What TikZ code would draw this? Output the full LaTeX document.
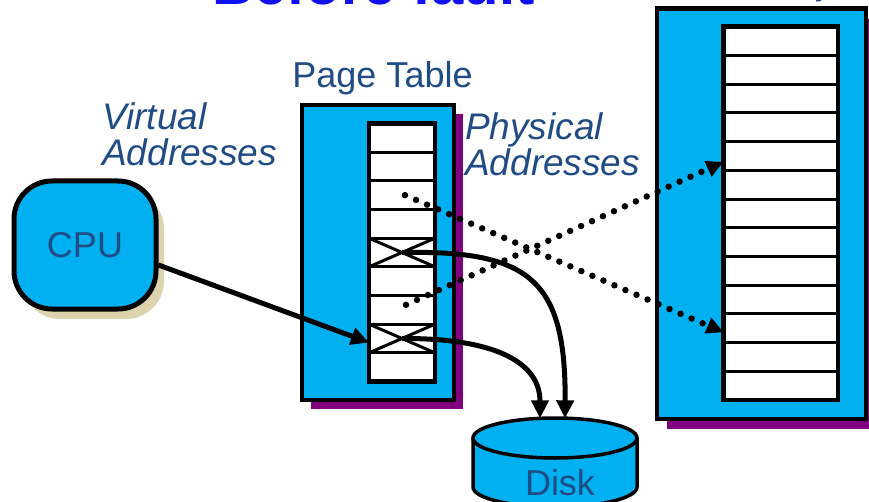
\documentclass[tikz,border=0pt]{standalone}
\usepackage{fontspec}
\setmainfont{Liberation Sans}
\usetikzlibrary{arrows.meta,calc}

\definecolor{fillcyan}{HTML}{00B0F0}
\definecolor{shadowpurple}{HTML}{800080}
\definecolor{shadowtan}{HTML}{DDD3AE}
\definecolor{labelblue}{HTML}{204C86}
\definecolor{titleblue}{HTML}{1010F0}

\begin{document}
\begin{tikzpicture}[x=1pt,y=-1pt,
  pagebox/.style={draw=black,line width=4.5pt,fill=fillcyan,inner sep=0pt},
  rowcell/.style={draw=black,line width=3pt,fill=white,inner sep=0pt,outer sep=0pt,minimum height=28.7pt},
  ptrow/.style={rowcell,minimum width=66pt},
  memrow/.style={rowcell,minimum width=114.5pt},
  colframe/.style={draw=black,line width=4.5pt},
  xline/.style={draw=black,line width=3pt},
  txt/.style={text=labelblue,font=\fontsize{36}{37}\selectfont,inner sep=0pt},
  itxt/.style={txt,font=\itshape\fontsize{37}{36}\selectfont,align=left},
  dotarrow/.style={line width=6.5pt,line cap=round,dash pattern=on 0pt off 12pt,
    -{Triangle[length=17pt,width=16pt]}},
  solidarrow/.style={line width=5pt,-{Triangle[length=18pt,width=17pt]}},
  cpubox/.style={draw=black,line width=5pt,fill=fillcyan,rounded corners=38pt,
    minimum width=142pt,minimum height=128pt,txt}]

\useasboundingbox (0,0) rectangle (869,502);

% titles along the top edge
\node[anchor=base,inner sep=0pt,text=titleblue,font=\bfseries\fontsize{58}{60}\selectfont]
  (title) at (373.5,5) {Before fault};
\node[txt,anchor=base east] (memtitle) at (833,-5) {Memory};

% CPU with its shadow
\fill[shadowtan,rounded corners=38pt] (22,191) rectangle (164,319);
\node[cpubox] (cpu) at (85,245) {CPU};

% page table
\fill[shadowpurple] (311,114) rectangle (463,409);
\node[pagebox,minimum width=152pt,minimum height=295pt] (pt) at (378,252.5) {};
\foreach \k in {1,...,9}
  \node[ptrow] (pt\k) at (402,{123.5+28.667*(\k-0.5)}) {};
\draw[colframe] (pt1.north west) rectangle (pt9.south east);
\foreach \k in {5,8}
  \draw[xline] (pt\k.north west) -- (pt\k.south east)
               (pt\k.south west) -- (pt\k.north east);

% physical memory
\fill[shadowpurple] (667,19) rectangle (880,429);
\node[pagebox,minimum width=209pt,minimum height=410.3pt] (mem) at (761.5,213.85) {};
\foreach \k in {1,...,13}
  \node[memrow] (m\k) at (780.75,{26.7+28.72*(\k-0.5)}) {};
\draw[colframe] (m1.north west) rectangle (m13.south east);

% disk
\fill[fillcyan] (473,438) -- (473,487)
  arc[start angle=180,end angle=0,x radius=82,y radius=20] -- (637,438) -- cycle;
\draw[line width=3.5pt] (473,438) -- (473,487)
  arc[start angle=180,end angle=0,x radius=82,y radius=20] -- (637,438);
\draw[line width=3.5pt,fill=fillcyan] (555,438) ellipse[x radius=82,y radius=20];
\node[txt,anchor=base] (disk) at (560,495) {Disk};
\coordinate (diskinA) at (540,418.3);
\coordinate (diskinB) at (565,418.3);

% labels
\node[txt,anchor=base] (ptlabel) at (382.5,88) {Page Table};
\node[itxt,anchor=north west] (vlabel) at (102,102) {Virtual\\Addresses};
\node[itxt,anchor=north west] (plabel) at (465,112) {Physical\\Addresses};

% translations to physical frames
\draw[dotarrow] ([xshift=3pt]pt3.center) -- ([yshift=-4pt]m11.west);
\draw[dotarrow] ([xshift=4pt,yshift=5pt]pt7.center) -- ([yshift=-6pt]m5.west);

% invalid entries point to the disk
\draw[solidarrow] (pt5.center) .. controls (530,250) and (566,280) .. (diskinB);
\draw[solidarrow] (pt8.center) .. controls (490,338) and (540,360) .. (diskinA);

% CPU issues a virtual address
\draw[solidarrow] ([yshift=-20pt]cpu.east) -- ([yshift=-4pt]pt8.west);

\end{tikzpicture}
\end{document}
